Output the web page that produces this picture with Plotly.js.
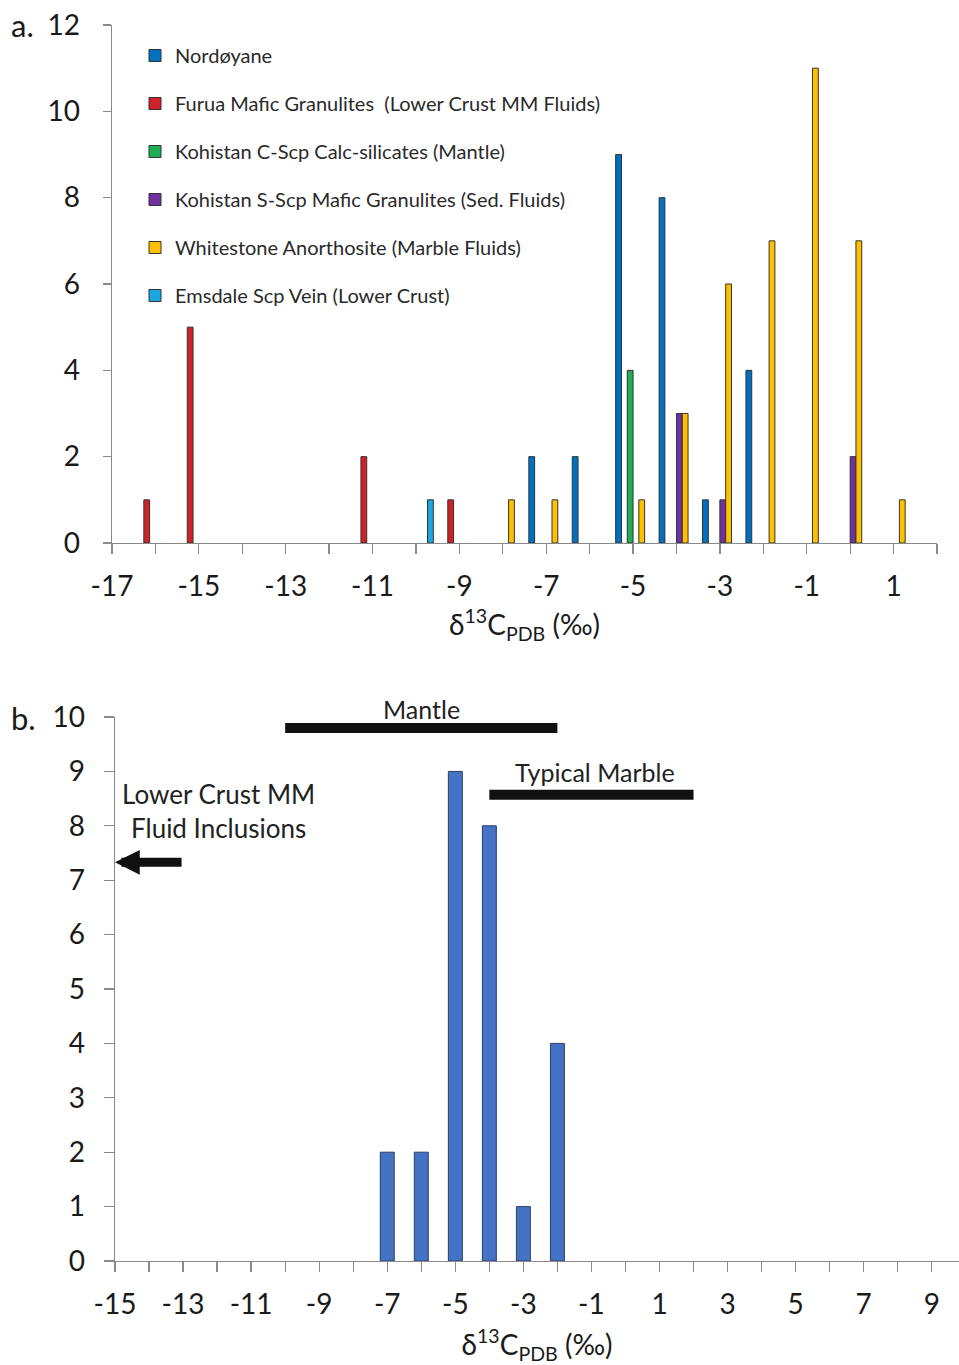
<!DOCTYPE html>
<html>
<head>
<meta charset="utf-8">
<script src="https://cdn.plot.ly/plotly-3.0.1.min.js"></script>
<style>html,body{margin:0;padding:0;background:#fff;}#chart{width:959px;height:1365px;}</style>
</head>
<body>
<div id="chart"></div>
<script>
// ---------- Panel a: δ13C bins (integer bin centres) ----------
var nordX = [-7, -6, -5, -4, -3, -2];
var nordY = [2, 2, 9, 8, 1, 4];

var furuaX = [-16, -15, -11, -9];
var furuaY = [1, 5, 2, 1];

var kohCX = [-5];
var kohCY = [4];

var kohSX = [-4, -3, 0];
var kohSY = [3, 1, 2];

var whiteX = [-8, -7, -5, -4, -3, -2, -1, 0, 1];
var whiteY = [1, 1, 1, 3, 6, 7, 11, 7, 1];

var emsX = [-10];
var emsY = [1];

var seriesNames = [
  "Nordøyane",
  "Furua Mafic Granulites  (Lower Crust MM Fluids)",
  "Kohistan C-Scp Calc-silicates (Mantle)",
  "Kohistan S-Scp Mafic Granulites (Sed. Fluids)",
  "Whitestone Anorthosite (Marble Fluids)",
  "Emsdale Scp Vein (Lower Crust)"
];
var seriesColors = ["#0070C0", "#D0202A", "#1FAE55", "#7030A0", "#FFC000", "#1AA7E0"];

var topTickVals = [-17, -15, -13, -11, -9, -7, -5, -3, -1, 1];
var topTickText = ["-17", "-15", "-13", "-11", "-9", "-7", "-5", "-3", "-1", "1"];
var topYTicks = [0, 2, 4, 6, 8, 10, 12];

// ---------- Panel b: Nordøyane histogram ----------
var histX = [-7, -6, -5, -4, -3, -2];
var histY = [2, 2, 9, 8, 1, 4];

var botTickVals = [-15, -13, -11, -9, -7, -5, -3, -1, 1, 3, 5, 7, 9];
var botTickText = ["-15", "-13", "-11", "-9", "-7", "-5", "-3", "-1", "1", "3", "5", "7", "9"];
var botYTicks = [0, 1, 2, 3, 4, 5, 6, 7, 8, 9, 10];

// reference ranges drawn on panel b
var mantleRange = [-10, -2];
var marbleRange = [-4, 2];

var FONT = "Lato, 'Open Sans', sans-serif";
var W = 959, H = 1365;

var xs = [nordX, furuaX, kohCX, kohSX, whiteX, emsX];
var ys = [nordY, furuaY, kohCY, kohSY, whiteY, emsY];
var traces = [];
for (var i = 0; i < 6; i++) {
  traces.push({
    type: "bar", x: xs[i], y: ys[i], name: seriesNames[i],
    xaxis: "x", yaxis: "y", legendgroup: "g" + i,
    marker: {color: seriesColors[i], line: {color: "#333333", width: 1}},
    hoverinfo: "x+y+name"
  });
}
traces.push({
  type: "bar", x: histX, y: histY, name: "Nordøyane (b)", showlegend: false,
  xaxis: "x2", yaxis: "y2", width: 0.41,
  marker: {color: "#4472C4", line: {color: "#2B3F66", width: 1}}
});
// reference ranges
traces.push({
  type: "scatter", mode: "lines", x: mantleRange, y: [9.8, 9.8], xaxis: "x2", yaxis: "y2",
  line: {color: "#111", width: 10}, showlegend: false, hoverinfo: "skip"
});
traces.push({
  type: "scatter", mode: "lines", x: marbleRange, y: [8.57, 8.57], xaxis: "x2", yaxis: "y2",
  line: {color: "#111", width: 10}, showlegend: false, hoverinfo: "skip"
});

var axCommon = {
  showgrid: false, zeroline: false, showline: true, linecolor: "#8a8a8a", linewidth: 1.3,
  ticks: "outside", tickcolor: "#8a8a8a", tickwidth: 1.3, ticklen: 10,
  tickfont: {family: FONT, size: 28, color: "#1a1a1a"}, fixedrange: true
};
function ax(extra) { var o = JSON.parse(JSON.stringify(axCommon)); for (var k in extra) o[k] = extra[k]; return o; }
var minorX = {ticks: "outside", ticklen: 10, tickwidth: 1.3, tickcolor: "#8a8a8a", dtick: 1, showgrid: false};

var layout = {
  width: W, height: H, margin: {l: 0, r: 0, t: 0, b: 0},
  paper_bgcolor: "#fff", plot_bgcolor: "#fff",
  font: {family: FONT, color: "#1a1a1a"},
  barmode: "group", bargap: 0.2, bargroupgap: 0,
  showlegend: true,
  legend: {
    x: 135 / W, y: 1 - 36 / H, xanchor: "left", yanchor: "top",
    font: {family: FONT, size: 20, color: "#2a2a2a"},
    traceorder: "grouped", tracegroupgap: 19, bgcolor: "rgba(0,0,0,0)"
  },
  xaxis: ax({
    domain: [112 / W, 937 / W], anchor: "y", range: [-17, 2],
    tickmode: "array", tickvals: topTickVals, ticktext: topTickText, ticklabelstandoff: 8,
    minor: Object.assign({tick0: -17}, minorX),
    title: {text: "δ<sup>13</sup>C<sub>PDB</sub> (‰)", font: {family: FONT, size: 28, color: "#1a1a1a"}, standoff: 14}
  }),
  yaxis: ax({
    domain: [1 - 543 / H, 1 - 25 / H], anchor: "x", range: [0, 12],
    tickmode: "array", tickvals: topYTicks, ticklen: 8, ticklabelstandoff: 17
  }),
  xaxis2: ax({
    domain: [115 / W, 1], anchor: "y2", range: [-15, 9.8],
    tickmode: "array", tickvals: botTickVals, ticktext: botTickText, ticklabelstandoff: 8,
    minor: Object.assign({tick0: -15}, minorX),
    title: {text: "δ<sup>13</sup>C<sub>PDB</sub> (‰)", font: {family: FONT, size: 28, color: "#1a1a1a"}, standoff: 18}
  }),
  yaxis2: ax({
    domain: [1 - 1261 / H, 1 - 717 / H], anchor: "x2", range: [0, 10],
    tickmode: "array", tickvals: botYTicks, ticklen: 10, ticklabelstandoff: 13
  }),
  annotations: [
    {xref: "paper", yref: "paper", x: 9 / W, y: 1 - 25 / H, xanchor: "left", yanchor: "middle",
     text: "a.", showarrow: false, font: {family: FONT, size: 31, color: "#1a1a1a"}},
    {xref: "paper", yref: "paper", x: 9 / W, y: 1 - 718 / H, xanchor: "left", yanchor: "middle",
     text: "b.", showarrow: false, font: {family: FONT, size: 31, color: "#1a1a1a"}},
    {xref: "x2", yref: "y2", x: -6, y: 9.8, yanchor: "bottom", yshift: 2, text: "Mantle",
     showarrow: false, font: {family: FONT, size: 25, color: "#222"}},
    {xref: "x2", yref: "y2", x: -0.9, y: 8.57, yanchor: "bottom", yshift: 6, text: "Typical Marble",
     showarrow: false, font: {family: FONT, size: 25, color: "#222"}},
    {xref: "x2", yref: "y2", x: -11.95, y: 8.28, yanchor: "middle", text: "Lower Crust MM<br>Fluid Inclusions",
     align: "center", showarrow: false, font: {family: FONT, size: 26, color: "#222"}},
    {xref: "x2", yref: "y2", x: -15, y: 7.33, axref: "x2", ayref: "y2", ax: -13, ay: 7.33,
     text: "", showarrow: true, arrowhead: 2, arrowsize: 0.55, arrowwidth: 9, arrowcolor: "#111", standoff: 0}
  ]
};

Plotly.newPlot("chart", traces, layout, {displayModeBar: false, staticPlot: true});
</script>
</body>
</html>
